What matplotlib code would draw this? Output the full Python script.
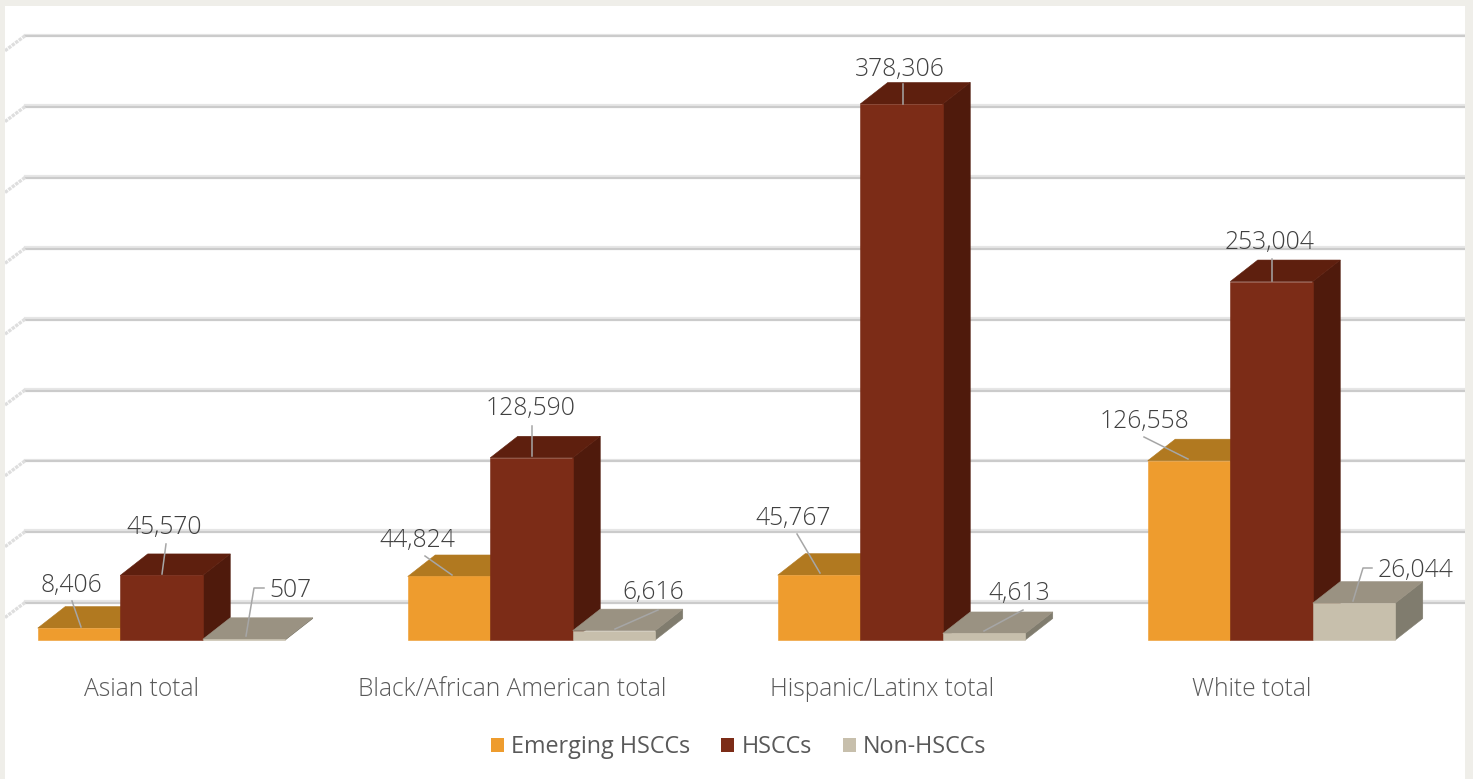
"""Bars by population group and hospital type, drawn as pseudo-3D boxes."""

import matplotlib

matplotlib.use("Agg")
import matplotlib.pyplot as plt
from matplotlib.patches import Patch, Polygon

categories = ["Asian total", "Black/African American total",
              "Hispanic/Latinx total", "White total"]
series_names = ["Emerging HSCCs", "HSCCs", "Non-HSCCs"]
emerging = [8406, 44824, 45767, 126558]
hsccs = [45570, 128590, 378306, 253004]
non_hsccs = [507, 6616, 4613, 26044]
grid_values = [0, 50000, 100000, 150000, 200000, 250000, 300000, 350000, 400000]

# грани: фронт, верх, бок
FACES = [("#EE9C2E", "#B17920", "#8A5E18"),
         ("#7C2C17", "#5E1F0E", "#4F1A0C"),
         ("#C7BFAC", "#9A9282", "#807C6E")]
TEXT = "#595959"
VALUE_TEXT = "#404040"
W, H = 1473, 779
PX_X = 370.0          # пикселей на категорию
PX_Y = 536 / 378306   # пикселей на единицу значения
BAR_W = 82.5 / PX_X
DEPTH_X = 27.5 / PX_X
DEPTH_Y = 21.5 / PX_Y
WALL_Y = 37.5 / PX_Y
X0, Y0 = 161.5, 640   # пиксель (категория 0, значение 0)

# положение подписи и излом выноски на картинке, пиксели
LABEL_POS = [
    [((71, 583), [(72, 601), (81, 627)]),
     ((164, 525), [(166, 544), (162, 574)]),
     ((290, 588), [(264, 588), (254, 588), (246, 636)])],
    [((417, 538), [(425, 556), (452, 575)]),
     ((531, 406), [(532, 426), (532, 456)]),
     ((653, 590), [(658, 610), (615, 629)])],
    [((793, 516), [(797, 534), (820, 573)]),
     ((900, 67), [(903, 84), (903, 104)]),
     ((1019, 591), [(1023, 610), (984, 631)])],
    [((1144, 419), [(1144, 437), (1188, 459)]),
     ((1270, 240), [(1272, 259), (1272, 281)]),
     ((1416, 568), [(1372, 568), (1363, 568), (1353, 601)])],
]

plt.rcParams["font.family"] = ["Open Sans", "DejaVu Sans"]
fig = plt.figure(figsize=(W / 100, H / 100), dpi=100, facecolor="#EFEEE9")
ax = fig.add_axes([5 / W, 0, 1460 / W, 773 / H], facecolor="white")
ax.set_xlim((5 - X0) / PX_X, (1465 - X0) / PX_X)
ax.set_ylim((Y0 - 779) / PX_Y, (Y0 - 6) / PX_Y)
ax.set_xticks([])
ax.set_yticks([])
for sp in ax.spines.values():
    sp.set_visible(False)


def px(x, y):
    """Пиксели картинки -> данные оси (для подписей и выносок)."""
    return (x - X0) / PX_X, (Y0 - y) / PX_Y


# стенка с сеткой
left_x = px(25, 0)[0]
right_x = px(1465, 0)[0]
for v in grid_values:
    y = v + WALL_Y
    ax.plot([left_x, right_x], [y + 1.2 / PX_Y] * 2, color="#E6E6E6", lw=1.6, zorder=1)
    ax.plot([left_x, right_x], [y - 0.6 / PX_Y] * 2, color="#CBCBCB", lw=1.6, zorder=1)
    ax.plot([left_x, px(5, 0)[0]], [y, y - 15 / PX_Y], color="#DEDEDE", lw=2.4,
            ls=(0, (1, 0.3)), zorder=1)

# столбцы слева направо, чтобы следующий перекрывал верх предыдущего
z = 2
for i in range(len(categories)):
    for s, values in enumerate([emerging, hsccs, non_hsccs]):
        v = values[i]
        x0 = i + (s - 1.5) * BAR_W
        x1 = x0 + BAR_W
        front, top, side = FACES[s]
        ax.add_patch(Polygon([(x1, 0), (x1 + DEPTH_X, DEPTH_Y), (x1 + DEPTH_X, v + DEPTH_Y), (x1, v)],
                             facecolor=side, edgecolor=side, linewidth=0.4, zorder=z))
        ax.add_patch(Polygon([(x0, v), (x0 + DEPTH_X, v + DEPTH_Y), (x1 + DEPTH_X, v + DEPTH_Y), (x1, v)],
                             facecolor=top, edgecolor=top, linewidth=0.4, zorder=z))
        ax.bar(x0, v, width=BAR_W, align="edge", color=front, edgecolor=front,
               linewidth=0.4, zorder=z)
        z += 1

# подписи значений с выносками
for i in range(len(categories)):
    for s, values in enumerate([emerging, hsccs, non_hsccs]):
        (tx, ty), leader = LABEL_POS[i][s]
        pts = [px(*p) for p in leader]
        ax.plot([p[0] for p in pts], [p[1] for p in pts], color="#A6A6A6", lw=1.1, zorder=50)
        ax.text(*px(tx, ty + 2.5), f"{values[i]:,}", ha="center", va="center", fontsize=17.7,
                color=VALUE_TEXT, fontweight="light", zorder=51)

# подписи категорий
for i, name in enumerate(categories):
    ax.text(*px(X0 + i * PX_X - 19.5, 690), name, ha="center", va="center", fontsize=17.7,
            color=TEXT, fontweight="light")

handles = [Patch(facecolor=FACES[s][0], label=series_names[s]) for s in range(3)]
leg = ax.legend(handles=handles, ncol=3, frameon=False, loc="center",
                fontsize=16.8, labelcolor=TEXT,
                handlelength=0.56, handleheight=0.56, handletextpad=0.3, columnspacing=1.33,
                bbox_to_anchor=px(738.5, 747), bbox_transform=ax.transData)

fig.savefig("out.png", dpi=100, facecolor=fig.get_facecolor())
